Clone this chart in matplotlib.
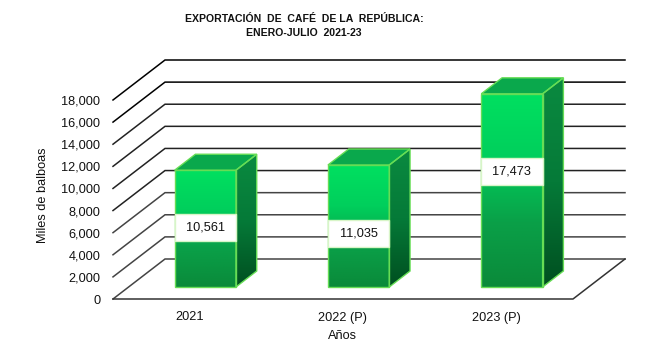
import numpy as np
import matplotlib
matplotlib.use("Agg")
import matplotlib.pyplot as plt
from matplotlib.colors import LinearSegmentedColormap
from matplotlib.patches import Polygon, Rectangle

plt.rcParams['font.family'] = ['Liberation Sans', 'DejaVu Sans']

categories = ["2021", "2022 (P)", "2023 (P)"]
values = [10561, 11035, 17473]
value_labels = ["10,561", "11,035", "17,473"]
label_centres = [5350, 4860, 10440]
yticks = list(range(0, 18001, 2000))
title = "EXPORTACIÓN  DE  CAFÉ  DE LA  REPÚBLICA:\nENERO-JULIO  2021-23"

W, H = 666, 360
fig = plt.figure(figsize=(W / 100, H / 100), dpi=100, facecolor="white")
L, R, T, B = 113, 573, 100, 299
ax = fig.add_axes([L / W, 1 - B / H, (R - L) / W, (B - T) / H])
ax.set_xlim(-0.5, 2.5)
ax.set_ylim(0, 18000)
ax.patch.set_alpha(0)
for s in ax.spines.values():
    s.set_visible(False)

DX = 52 / ((R - L) / 3)      # full depth, in category units
DY = 40 * 18000 / (B - T)    # full depth, in value units


def pt(x, v, d=0.0):
    return (x + d * DX, v + d * DY)


for v in yticks:
    shade = "#000000" if v >= 16000 else ("#222222" if v >= 8000 else "#444444")
    x0, y0 = pt(-0.5, v)
    x1, y1 = pt(-0.5, v, 1)
    x2, y2 = pt(2.5, v, 1)
    ax.plot([x0, x1, x2], [y0, y1, y2], color=shade, lw=1.1, clip_on=False,
            zorder=1, solid_joinstyle="miter")
xa, ya = pt(-0.5, 0)
xb, yb = pt(2.5, 0)
xc, yc = pt(2.5, 0, 1)
ax.plot([xa, xb, xc], [ya, yb, yc], color="#333333", lw=1.1, clip_on=False, zorder=1)

front_cm = LinearSegmentedColormap.from_list("f", ["#00E060", "#00CF5C", "#0AA048", "#0A8A3A"])
side_cm = LinearSegmentedColormap.from_list("s", ["#0A8A40", "#057A38", "#004F20"])
grad = np.linspace(0, 1, 256).reshape(-1, 1)
EDGE = "#66DD55"
BW = 0.4
D0, D1 = 0.3, 0.7


def shaded(poly, cmap, z):
    xs = [p[0] for p in poly]
    ys = [p[1] for p in poly]
    im = ax.imshow(grad, cmap=cmap, aspect="auto", origin="upper",
                   extent=(min(xs), max(xs), min(ys), max(ys)), zorder=z)
    im.set_clip_path(Polygon(poly, closed=True, transform=ax.transData))
    im.set_clip_box(fig.bbox)


for i, (v, lab, c) in enumerate(zip(values, value_labels, label_centres)):
    xl, xr = i - BW / 2, i + BW / 2
    front = [pt(xl, 0, D0), pt(xr, 0, D0), pt(xr, v, D0), pt(xl, v, D0)]
    side = [pt(xr, 0, D0), pt(xr, 0, D1), pt(xr, v, D1), pt(xr, v, D0)]
    top = [pt(xl, v, D0), pt(xr, v, D0), pt(xr, v, D1), pt(xl, v, D1)]
    shaded(side, side_cm, 3)
    shaded(front, front_cm, 3)
    ax.add_patch(Polygon(top, closed=True, fc="#0AA84C", ec="none", zorder=3, clip_on=False))
    for poly in (side, front, top):
        ax.add_patch(Polygon(poly, closed=True, fc="none", ec=EDGE, lw=1.0, zorder=4, clip_on=False))
    bx, by = pt(xl, c - 1220, D0)
    ax.add_patch(Rectangle((bx, by), BW, 2440, fc="white", ec="#D8F5C8", lw=1.0, zorder=5, clip_on=False))
    cx, cy = pt(i, c, D0)
    ax.text(cx, cy, lab, ha="center", va="center", fontsize=9.2, color="#111111", zorder=6)

ax.set_xlim(-0.5, 2.5)
ax.set_ylim(0, 18000)
ax.set_xticks(range(len(categories)), categories)
ax.set_yticks(yticks, [f"{t:,}" for t in yticks])
ax.tick_params(length=0, labelsize=9.2, labelcolor="#111111")
ax.tick_params(axis="y", pad=9)
ax.tick_params(axis="x", pad=9)

fig.text(43 / W, 1 - 195 / H, "Miles de balboas", rotation=90, ha="center", va="center",
         fontsize=9.2, color="#111111")
fig.text(342 / W, 1 - 336 / H, "Años", ha="center", va="center", fontsize=9.2, color="#111111")
fig.text(304 / W, 1 - 26 / H, title, ha="center", va="center", fontsize=7.6, fontweight="bold",
         color="#111111", linespacing=1.45)

fig.savefig("out.png", dpi=100)
